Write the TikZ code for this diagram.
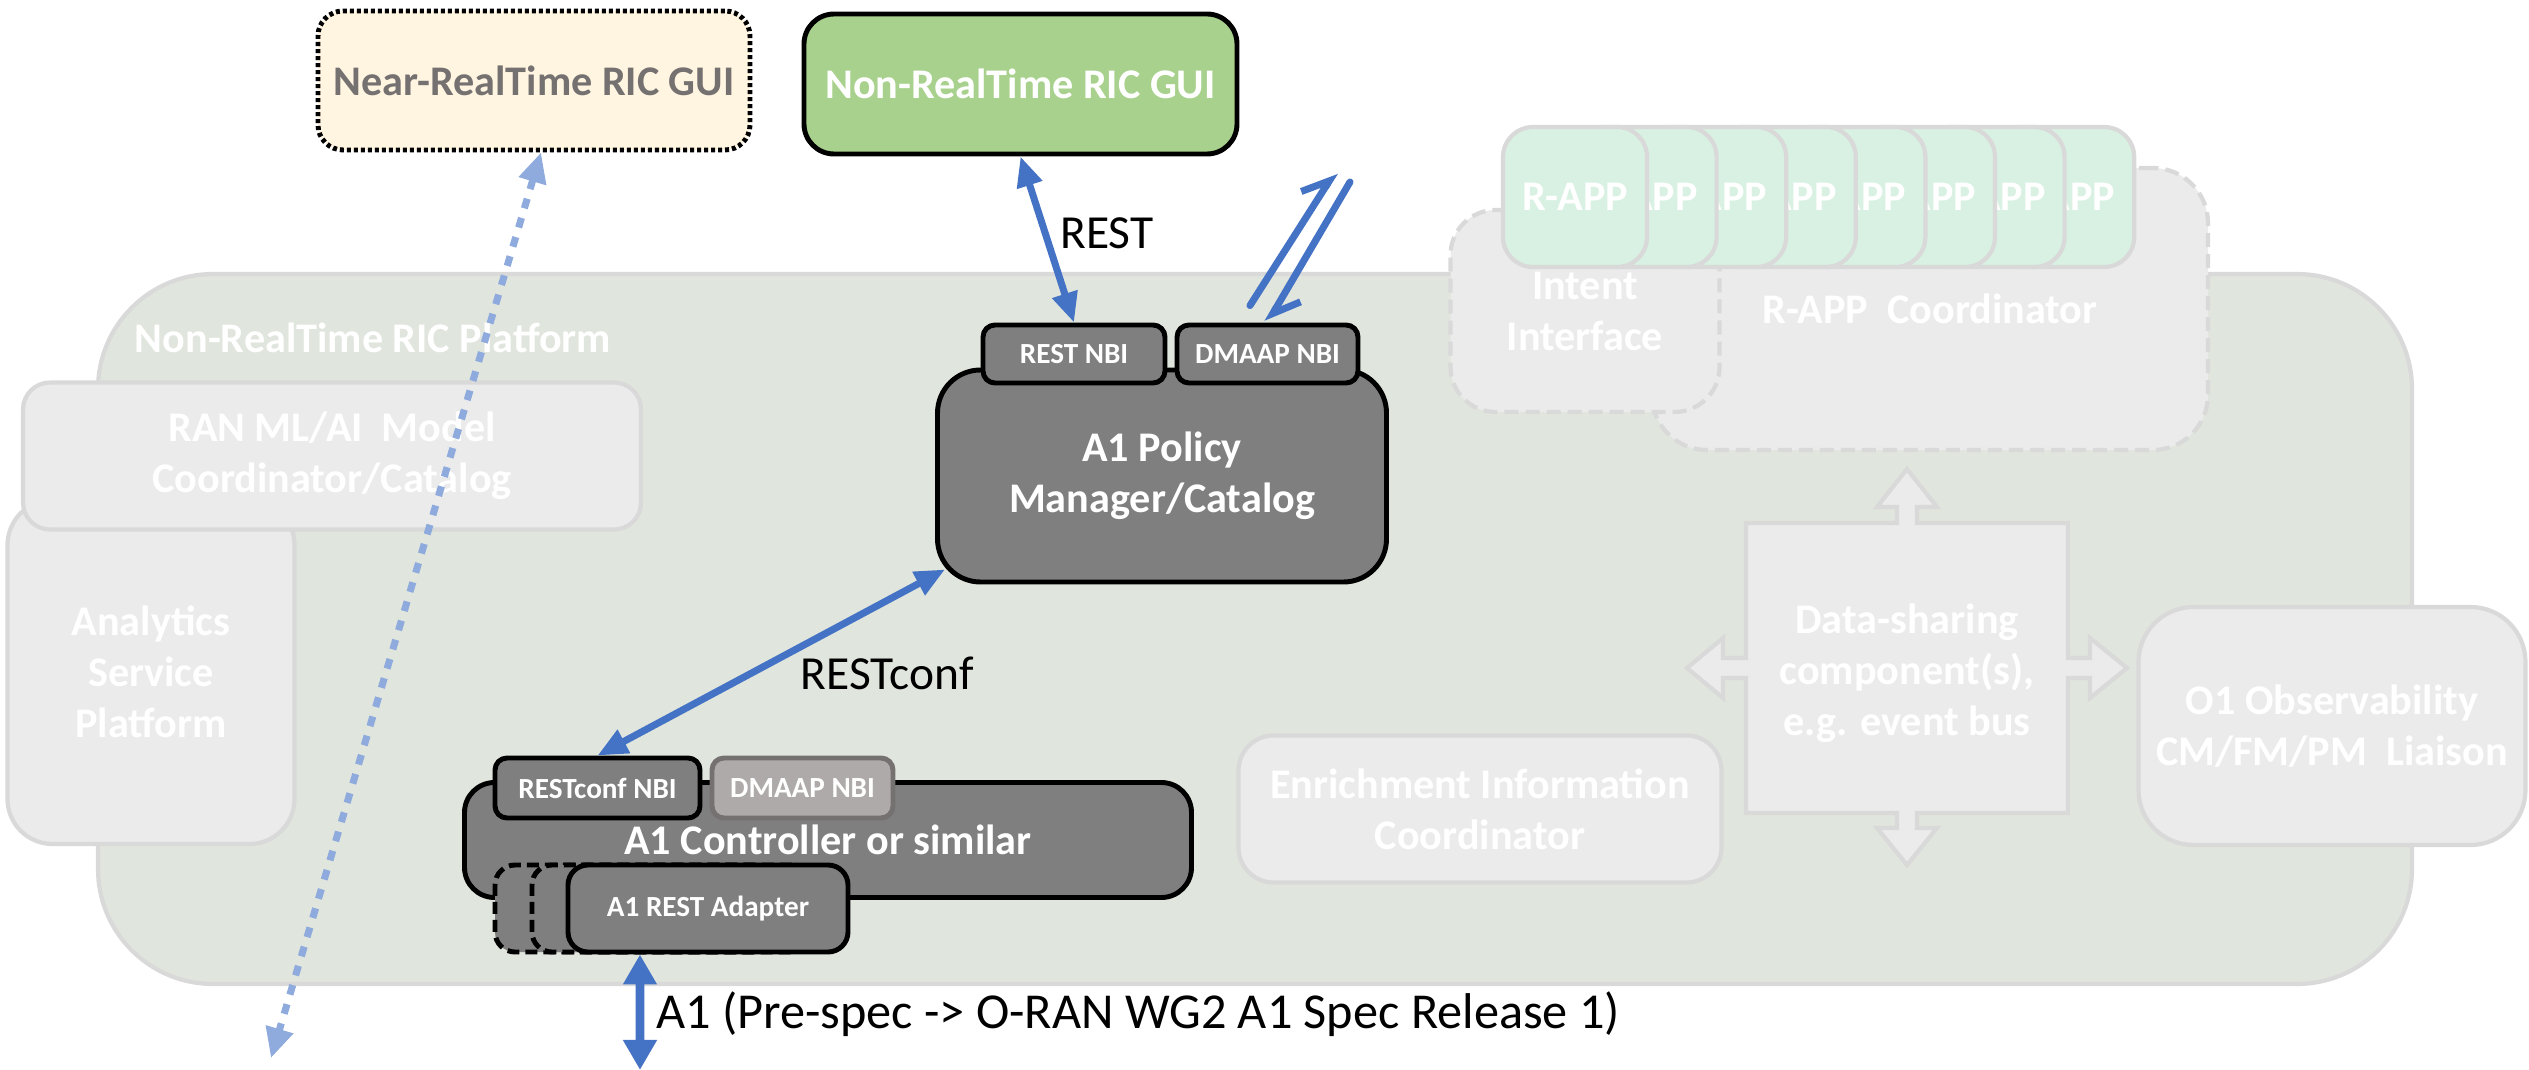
\documentclass[tikz,border=0pt]{standalone}
\usepackage{fontspec}
\setmainfont{Carlito}
\usetikzlibrary{arrows.meta}
\definecolor{platgreen}{RGB}{224,229,221}
\definecolor{boxgrey}{RGB}{235,235,235}
\definecolor{lineg}{RGB}{217,217,217}
\definecolor{darkbox}{RGB}{127,127,127}
\definecolor{guigreen}{RGB}{169,209,142}
\definecolor{cream}{RGB}{255,245,225}
\definecolor{mint}{RGB}{216,241,226}
\definecolor{arrblue}{RGB}{68,114,196}
\definecolor{lightblue}{RGB}{143,170,220}
\definecolor{textgrey}{RGB}{118,113,113}
\definecolor{tabgrey}{RGB}{174,170,170}
\begin{document}
\begin{tikzpicture}[x=0.01cm, y=-0.01cm,
    wh/.style 2 args={minimum width=#1*0.01cm, minimum height=#2*0.01cm},
    big/.style={font=\bfseries\fontsize{12}{14.5}\selectfont},
    small/.style={font=\bfseries\fontsize{8.3}{10}\selectfont},
    lbl/.style={font=\fontsize{13.5}{16}\selectfont, text=black},
    faded/.style={draw=lineg, line width=1.2pt, fill=boxgrey, text=white, big, align=center, inner sep=0pt},
    darkb/.style={draw=black, line width=1.4pt, fill=darkbox, text=white, align=center, inner sep=0pt},
    gapdash/.style={dash pattern=on 0.14cm off 0.07cm},
    link/.style={arrblue, line width=2pt, {Triangle[length=0.3cm, width=0.25cm]}-{Triangle[length=0.3cm, width=0.25cm]}},
    halfarr/.style={arrblue, line width=2pt, line cap=round, -{Straight Barb[harpoon, length=0.24cm, width=0.36cm]}}]

    \useasboundingbox (0,0) rectangle (2529,1070);

    % platform
    \node[draw=lineg, line width=1.2pt, fill=platgreen, wh={2314}{710}, rounded corners=1.15cm] (plat) at (1255,629) {};
    \node[big, text=white] (platlbl) at (373,338) {Non-RealTime RIC Platform};

    \node[faded, wh={287}{344}, rounded corners=0.45cm] (asp) at (151,672) {Analytics\\Service\\Platform};
    \node[faded, wh={618}{147}, rounded corners=0.27cm] (ranml) at (332,456) {RAN ML/AI\ \ Model\\Coordinator/Catalog};

    % r-app side
    \node[faded, gapdash, wh={556}{282}, rounded corners=0.55cm] (rcoord) at (1930,309) {R-APP\ \ Coordinator};
    \node[faded, gapdash, wh={269}{202}, rounded corners=0.45cm] (intent) at (1585,311) {Intent\\Interface};
    \foreach \i in {7,...,0}
        \node[faded, fill=mint, wh={144}{140}, rounded corners=0.3cm] (rapp\i) at ({1575+69.6*\i},197) {R-APP};

    \begin{scope}[shift={(1907,668)}]
        \draw[draw=lineg, line width=1.2pt, fill=boxgrey]
            (-161,-145) -- (-10,-145) -- (-10,-161) -- (-30,-161) -- (0,-199) -- (30,-161) -- (10,-161) -- (10,-145)
            -- (161,-145) -- (161,-10) -- (183,-10) -- (183,-30) -- (220,0) -- (183,30) -- (183,10) -- (161,10)
            -- (161,145) -- (10,145) -- (10,160) -- (30,160) -- (0,197) -- (-30,160) -- (-10,160) -- (-10,145)
            -- (-161,145) -- (-161,10) -- (-184,10) -- (-184,30) -- (-220,0) -- (-184,-30) -- (-184,-10) -- (-161,-10) -- cycle;
    \end{scope}
    \node[big, text=white, align=center] (dsc) at (1907,673) {Data-sharing\\component(s),\\e.g. event bus};

    \node[faded, wh={483}{147}, rounded corners=0.35cm] (eic) at (1480,809) {Enrichment Information\\Coordinator};
    \node[faded, wh={387}{238}, rounded corners=0.55cm] (o1) at (2332,726) {O1 Observability\\CM/FM/PM\ \ Liaison};

    % policy manager
    \node[darkb, big, wh={449}{212}, rounded corners=0.43cm] (pms) at (1162,476) {A1 Policy\\Manager/Catalog};
    \node[darkb, small, wh={182}{58}, rounded corners=0.12cm] (restnbi) at (1074,354) {REST NBI};
    \node[darkb, small, wh={181}{58}, rounded corners=0.12cm] (dmaapnbi) at (1267.5,354) {DMAAP NBI};

    % controller
    \node[darkb, big, wh={727}{115}, rounded corners=0.3cm] (ctrl) at (828,840) {A1 Controller or similar};
    \node[darkb, small, wh={205}{60}, rounded corners=0.12cm] (rcnbi) at (597.5,788) {RESTconf NBI};
    \node[darkb, small, draw=textgrey, fill=tabgrey, wh={181}{60}, rounded corners=0.12cm] (cdmaap) at (802.5,788) {DMAAP NBI};
    \foreach \s in {495,532}
        \node[darkb, dash pattern=on 0.12cm off 0.06cm, wh={280}{87}, rounded corners=0.2cm] (adp\s) at ({\s+140},908.5) {};
    \node[darkb, small, wh={280}{87}, rounded corners=0.2cm] (adp) at (708,908.5) {A1 REST Adapter};

    % guis
    \node[draw=black, line width=1.4pt, dash pattern=on 0.04cm off 0.03cm, fill=cream, text=textgrey, big, wh={432}{139}, rounded corners=0.25cm] (nrgui) at (534,80.5) {Near-RealTime RIC GUI};
    \node[darkb, fill=guigreen, big, wh={433}{140}, rounded corners=0.3cm] (ngui) at (1020.5,84) {Non-RealTime RIC GUI};

    % connectors
    \coordinate (nrend) at (271,1058);
    \draw[lightblue, line width=2pt, dash pattern=on 0.1cm off 0.1cm, {Triangle[length=0.3cm, width=0.27cm]}-{Triangle[length=0.3cm, width=0.27cm]}] ([xshift=0.07cm]nrgui.south) -- (nrend);

    \draw[link] (ngui.south) -- (restnbi.north) node[pos=0.46, right, lbl] {REST};
    \draw[link] ([shift={(10,-15)}]pms.south west) -- (rcnbi.north) node[pos=0.56, right, xshift=0.35cm, lbl] {RESTconf};

    \coordinate (dmtop1) at (1335,172);
    \coordinate (dmtop2) at (1350,182);
    \draw[halfarr] ([xshift=-0.175cm, yshift=0.17cm]dmaapnbi.north) -- (dmtop1);
    \draw[halfarr] (dmtop2) -- (dmaapnbi.north);

    \coordinate (a1end) at (640,1070);
    \draw[arrblue, line width=2.5pt, {Triangle[length=0.3cm, width=0.32cm]}-{Triangle[length=0.3cm, width=0.32cm]}] ([xshift=-0.68cm]adp.south) -- (a1end)
        node[pos=0.52, right, lbl, font=\fontsize{14.3}{17}\selectfont] {A1 (Pre-spec -> O-RAN WG2 A1 Spec Release 1)};
\end{tikzpicture}
\end{document}
